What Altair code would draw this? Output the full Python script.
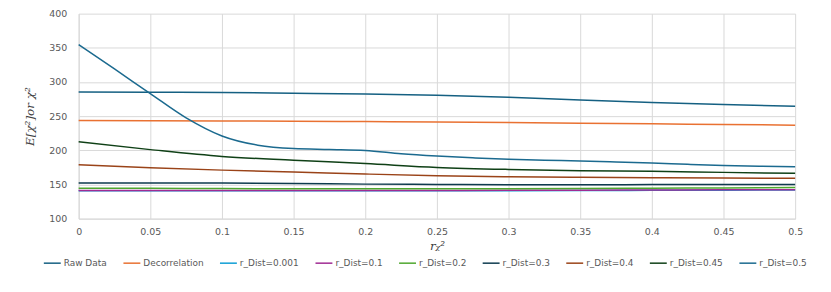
import altair as alt
import pandas as pd

# ---- data ----
x_main = [0, 0.05, 0.1, 0.15, 0.2, 0.25, 0.3, 0.35, 0.4, 0.45, 0.5]
x_fine = [0, 0.025, 0.05, 0.075, 0.1, 0.125, 0.15, 0.175, 0.2, 0.225, 0.25,
          0.275, 0.3, 0.325, 0.35, 0.375, 0.4, 0.425, 0.45, 0.475, 0.5]

raw_data = [285.2, 284.9, 284.7, 283.6, 282.4, 280.5, 277.6, 273.5, 270.0, 267.0, 264.6]
decorrelation = [243.5, 243.3, 243.0, 242.6, 242.0, 241.4, 240.6, 239.7, 238.7, 237.8, 236.8]
r_dist_0001 = [140.8, 140.7, 140.7, 140.7, 140.7, 140.8, 140.9, 141.1, 141.4, 141.7, 142.0]
r_dist_01 = [141.3, 141.2, 141.2, 141.2, 141.2, 141.3, 141.4, 141.6, 141.9, 142.2, 142.4]
r_dist_02 = [144.5, 144.3, 144.0, 143.8, 143.6, 143.6, 143.7, 144.0, 144.5, 145.0, 145.5]
r_dist_03 = [152.3, 152.2, 152.0, 151.5, 150.5, 150.0, 149.5, 149.5, 149.8, 150.0, 150.0]
r_dist_04 = [179.0, 174.5, 171.0, 168.3, 165.3, 162.8, 161.4, 160.5, 159.8, 159.3, 159.2]
r_dist_045 = [212.5, 201.0, 191.0, 185.5, 180.6, 175.0, 172.0, 170.2, 169.3, 167.7, 166.3]
r_dist_05 = [354.5, 319.0, 283.0, 247.5, 221.0, 207.5, 202.5, 201.2, 199.8, 195.0, 191.6,
             189.0, 186.8, 185.5, 184.4, 183.0, 181.5, 179.5, 177.8, 176.8, 175.8]

series_names = ["Raw Data", "Decorrelation", "r_Dist=0.001", "r_Dist=0.1", "r_Dist=0.2",
                "r_Dist=0.3", "r_Dist=0.4", "r_Dist=0.45", "r_Dist=0.5"]
series_colors = ["#156082", "#E97132", "#0F9ED5", "#A02B93", "#4EA72E",
                 "#0D3A4E", "#9A4318", "#0F4016", "#1B6A8F"]

y_ticks = [100, 150, 200, 250, 300, 350, 400]

series_values = [raw_data, decorrelation, r_dist_0001, r_dist_01, r_dist_02,
                 r_dist_03, r_dist_04, r_dist_045, r_dist_05]
series_x = [x_main] * 8 + [x_fine]

rows = []
for name, xs, vs in zip(series_names, series_x, series_values):
    for i, (xv, yv) in enumerate(zip(xs, vs)):
        rows.append({"series": name, "r": xv, "v": yv, "idx": i})
df = pd.DataFrame(rows)

label_color = "#595959"
grid_color = "#d9d9d9"

chart = alt.Chart(df).mark_line(strokeWidth=1.5, interpolate="monotone").encode(
    x=alt.X("r:Q",
            scale=alt.Scale(domain=[0, 0.5], nice=False, zero=False),
            axis=alt.Axis(values=x_main, format="~g", title="rᵪ²",
                          ticks=False, labelPadding=8, titlePadding=5,
                          titleFont="DejaVu Serif", titleFontStyle="italic",
                          titleFontWeight="normal", titleFontSize=12,
                          titleColor="#404040", labelFlush=False)),
    y=alt.Y("v:Q",
            scale=alt.Scale(domain=[100, 400], nice=False, zero=False),
            axis=alt.Axis(values=y_ticks, title="E[χ²]or χ²",
                          ticks=False, labelPadding=12, titlePadding=12,
                          titleFont="DejaVu Serif", titleFontStyle="italic",
                          titleFontWeight="normal", titleFontSize=12,
                          titleColor="#404040")),
    color=alt.Color("series:N",
                    scale=alt.Scale(domain=series_names, range=series_colors),
                    sort=series_names,
                    legend=alt.Legend(title=None, orient="none", direction="horizontal",
                                      columns=9, legendX=-36, legendY=241,
                                      symbolType="stroke", symbolSize=289,
                                      symbolStrokeWidth=1.5, labelOffset=2,
                                      columnPadding=13, labelFont="DejaVu Sans",
                                      labelFontSize=9, labelColor=label_color)),
    order=alt.Order("idx:Q"),
).properties(
    width=720, height=206,
    autosize=alt.AutoSizeParams(type="none"),
    padding={"left": 71, "top": 5, "right": 28, "bottom": 62},
).configure_view(
    stroke=None
).configure_axis(
    gridColor=grid_color, gridWidth=1, domainColor=grid_color, domainWidth=1,
    labelColor=label_color, labelFont="DejaVu Sans", labelFontSize=9.5,
)

chart.save("out.html", embed_options={"renderer": "svg", "actions": False})
